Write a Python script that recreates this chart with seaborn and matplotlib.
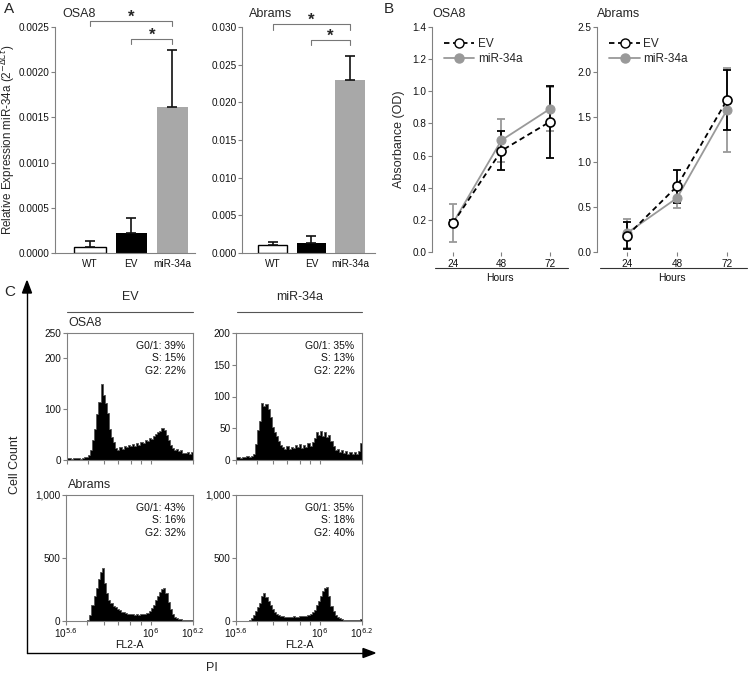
import numpy as np
import pandas as pd
import matplotlib
matplotlib.use("Agg")
import matplotlib.pyplot as plt
import seaborn as sns
from matplotlib.lines import Line2D
from matplotlib.ticker import FixedLocator, NullFormatter, FixedFormatter

sns.set_theme(style="ticks")
plt.rcParams["font.family"] = ["Liberation Sans", "DejaVu Sans"]

# ---------------- data ----------------
groups = ["WT", "EV", "miR-34a"]
osa8_expr = [0.00007, 0.00022, 0.00162]
osa8_expr_err = [0.000065, 0.00017, 0.00063]
abrams_expr = [0.0011, 0.0013, 0.0229]
abrams_expr_err = [0.0003, 0.0009, 0.0033]

hours = [24, 48, 72]
osa8_ev = [0.18, 0.63, 0.81]
osa8_ev_err = [0.02, 0.12, 0.225]
osa8_mir = [0.18, 0.695, 0.89]
osa8_mir_err = [0.12, 0.135, 0.135]
abrams_ev = [0.18, 0.73, 1.69]
abrams_ev_err = [0.15, 0.18, 0.33]
abrams_mir = [0.21, 0.60, 1.58]
abrams_mir_err = [0.16, 0.11, 0.47]

# cell cycle histograms: 60 bins over log10(FL2-A) 5.6 .. 6.2
fl2_log_min, fl2_log_max, n_bins = 5.6, 6.2, 60
osa8_ev_counts = [3, 4, 2, 3, 4, 3, 2, 4, 5, 6, 10, 20, 40, 62, 90, 115, 150, 128, 112, 92,
                  62, 46, 35, 24, 20, 26, 22, 28, 25, 30, 27, 32, 28, 34, 30, 36, 33, 40, 38, 44,
                  42, 48, 52, 55, 58, 63, 60, 50, 40, 30, 24, 20, 22, 18, 20, 14, 13, 15, 11, 16]
osa8_mir_counts = [4, 5, 3, 5, 4, 6, 5, 7, 10, 25, 48, 62, 90, 85, 88, 80, 68, 52, 44, 38,
                   30, 24, 20, 18, 22, 17, 21, 19, 24, 20, 25, 19, 23, 21, 26, 22, 28, 35, 44, 40,
                   45, 38, 44, 36, 40, 30, 22, 16, 18, 12, 15, 11, 14, 10, 13, 9, 12, 10, 14, 26]
abrams_ev_counts = [0, 0, 0, 0, 0, 0, 0, 0, 0, 2, 10, 45, 130, 200, 260, 330, 390, 420, 300, 220,
                    170, 140, 120, 108, 95, 85, 75, 68, 62, 58, 55, 52, 50, 52, 50, 54, 55, 58, 65, 80,
                    100, 130, 170, 200, 230, 250, 262, 220, 150, 95, 55, 32, 20, 15, 12, 10, 10, 11, 10, 11]
abrams_mir_counts = [0, 0, 0, 0, 0, 0, 5, 20, 45, 80, 110, 145, 195, 220, 190, 160, 125, 95, 70, 55,
                     45, 40, 36, 35, 33, 35, 32, 36, 34, 35, 37, 36, 40, 42, 45, 55, 70, 90, 125, 160,
                     200, 235, 260, 270, 200, 120, 80, 48, 30, 20, 14, 8, 6, 5, 5, 4, 5, 6, 8, 13]
osa8_ev_phases = ["G0/1: 39%", "S: 15%", "G2: 22%"]
osa8_mir_phases = ["G0/1: 35%", "S: 13%", "G2: 22%"]
abrams_ev_phases = ["G0/1: 43%", "S: 16%", "G2: 32%"]
abrams_mir_phases = ["G0/1: 35%", "S: 18%", "G2: 40%"]

# ---------------- figure ----------------
W, H = 748, 676
fig = plt.figure(figsize=(W / 100, H / 100), dpi=100)
fig.patch.set_facecolor("white")
SP = "#808080"
TICK_FS = 7.2


def fx(x):
    return x / W


def fy(y):
    return 1 - y / H


def add_ax(l, t, r, b):
    return fig.add_axes([l / W, 1 - b / H, (r - l) / W, (b - t) / H])


def style_ax(ax, box=False):
    for s in ["left", "bottom", "top", "right"]:
        ax.spines[s].set_color(SP)
        ax.spines[s].set_linewidth(0.8)
    if not box:
        ax.spines["top"].set_visible(False)
        ax.spines["right"].set_visible(False)
    ax.tick_params(axis="both", colors=SP, labelcolor="#111", labelsize=TICK_FS,
                   length=3, width=0.8, direction="out", pad=1.0)
    ax.set_facecolor("white")
    ax.grid(False)


# ---------------- panel A ----------------
bar_colors = ["white", "black", "#a8a8a8"]


def bar_panel(ax, vals, errs, ymax, yticks, fmt, title, br1, br2):
    df = pd.DataFrame({"group": groups, "value": vals})
    sns.barplot(data=df, x="group", y="value", hue="group", palette=bar_colors,
                width=0.76, legend=False, ax=ax, errorbar=None, saturation=1)
    for p, c in zip(ax.patches, bar_colors):
        p.set_edgecolor("black" if c == "white" else c)
        p.set_linewidth(1.0 if c == "white" else 0)
    ax.errorbar(range(3), vals, yerr=[[0, 0, 0], errs], fmt="none", ecolor="#111",
                elinewidth=1.2, capsize=3.5, capthick=1.2, zorder=1)
    style_ax(ax)
    ax.set_ylim(0, ymax)
    ax.set_xlim(-0.85, 2.55)
    ax.set_yticks(yticks)
    ax.set_yticklabels([fmt.format(v) for v in yticks])
    ax.set_xlabel("")
    ax.set_ylabel("")
    ax.tick_params(axis="x", length=0, pad=4)
    ax.text(0.05, 1.058, title, transform=ax.transAxes, fontsize=9, ha="left", va="center")
    # significance brackets
    d = ymax * 0.025
    for (x0, x1, yb) in [(0, 2, br1), (1, 2, br2)]:
        ax.plot([x0, x0, x1, x1], [yb - d, yb, yb, yb - d], color="#777", lw=0.8,
                clip_on=False)
        ax.text((x0 + x1) / 2, yb + ymax * 0.017, "*", ha="center", va="center",
                fontsize=12, fontweight="bold", clip_on=False)


axA1 = add_ax(55, 27, 195, 253)
bar_panel(axA1, osa8_expr, osa8_expr_err, 0.0025,
          [0, 0.0005, 0.001, 0.0015, 0.002, 0.0025], "{:.4f}", "OSA8", 0.00257, 0.00237)
axA1.set_ylabel("Relative Expression miR-34a (2$^{-\\Delta Ct}$)", fontsize=8.4)
axA1.yaxis.set_label_coords(-0.262, 0.5)

axA2 = add_ax(242, 27, 375, 253)
bar_panel(axA2, abrams_expr, abrams_expr_err, 0.030,
          [0, 0.005, 0.01, 0.015, 0.02, 0.025, 0.03], "{:.3f}", "Abrams", 0.0304, 0.0283)
axA2.set_xlim(-0.8, 2.65)

# ---------------- panel B ----------------


def line_panel(ax, ev, ev_err, mir, mir_err, ymax, yticks, title, xlim):
    sns.lineplot(x=hours, y=mir, color="#999999", lw=1.3, marker="o", markersize=6.5,
                 markeredgecolor="#999999", markerfacecolor="#999999", ax=ax, zorder=3)
    sns.lineplot(x=hours, y=ev, color="black", lw=1.3, linestyle=(0, (3, 2)), marker="o",
                 markersize=6.5, markeredgecolor="black", markerfacecolor="white",
                 markeredgewidth=1.2, ax=ax, zorder=4)
    ax.errorbar(hours, mir, yerr=mir_err, fmt="none", ecolor="#999999", elinewidth=1.3,
                capsize=3, capthick=1.3, zorder=2)
    ax.errorbar(hours, ev, yerr=ev_err, fmt="none", ecolor="black", elinewidth=1.3,
                capsize=3, capthick=1.3, zorder=2)
    style_ax(ax)
    ax.spines["bottom"].set_visible(False)
    ax.set_ylim(0, ymax)
    ax.set_yticks(yticks)
    ax.set_yticklabels(["{:.1f}".format(v) for v in yticks])
    ax.set_xlim(*xlim)
    ax.set_xticks(hours)
    ax.set_xticklabels([str(h) for h in hours])
    ax.tick_params(axis="x", pad=2)
    ax.plot([0.02, 1.0], [-0.072, -0.072], transform=ax.transAxes, color="#333", lw=0.8,
            clip_on=False)
    ax.set_xlabel("Hours", fontsize=7.5, labelpad=3, color="#111")
    ax.set_ylabel("")
    ax.text(0.0, 1.058, title, transform=ax.transAxes, fontsize=9, ha="left", va="center")
    handles = [Line2D([], [], color="black", lw=1.3, linestyle=(0, (3, 2)), marker="o",
                      markersize=6.5, markerfacecolor="white", markeredgecolor="black"),
               Line2D([], [], color="#999999", lw=1.3, marker="o", markersize=6.5,
                      markerfacecolor="#999999", markeredgecolor="#999999")]
    ax.legend(handles, ["EV", "miR-34a"], loc="upper left", bbox_to_anchor=(0.05, 0.97),
              frameon=False, fontsize=8.5, handlelength=2.6, handletextpad=0.3,
              labelspacing=0.25, borderaxespad=0)


axB1 = add_ax(432, 27, 568, 252)
line_panel(axB1, osa8_ev, osa8_ev_err, osa8_mir, osa8_mir_err, 1.4,
           [0, 0.2, 0.4, 0.6, 0.8, 1.0, 1.2, 1.4], "OSA8", (13.6, 81))
axB1.set_ylabel("Absorbance (OD)", fontsize=9)
axB1.yaxis.set_label_coords(-0.2, 0.5)

axB2 = add_ax(597, 27, 747, 252)
line_panel(axB2, abrams_ev, abrams_ev_err, abrams_mir, abrams_mir_err, 2.5,
           [0, 0.5, 1.0, 1.5, 2.0, 2.5], "Abrams", (9.6, 81.6))

# ---------------- panel C ----------------
minor_ticks = [5e5, 6e5, 7e5, 8e5, 9e5, 1e6]
bin_centers = 10 ** (fl2_log_min + (np.arange(n_bins) + 0.5) * (fl2_log_max - fl2_log_min) / n_bins)


def hist_panel(ax, counts, ymax, yticks, ylabels, phases, bottom):
    sns.histplot(x=bin_centers, weights=counts, bins=n_bins,
                 binrange=(fl2_log_min, fl2_log_max), log_scale=True, color="black",
                 alpha=1, linewidth=0.6, edgecolor="#555", element="step", fill=True, ax=ax)
    style_ax(ax, box=True)
    ax.set_xlim(10 ** fl2_log_min, 10 ** fl2_log_max)
    ax.set_ylim(0, ymax)
    ax.set_yticks(yticks)
    ax.set_yticklabels(ylabels)
    ax.set_ylabel("")
    ax.xaxis.set_major_locator(FixedLocator([10 ** fl2_log_min, 1e6, 10 ** fl2_log_max]))
    ax.xaxis.set_minor_locator(FixedLocator(minor_ticks))
    ax.xaxis.set_minor_formatter(NullFormatter())
    ax.tick_params(axis="x", which="minor", length=3, width=0.8, colors=SP)
    if bottom:
        ax.xaxis.set_major_formatter(FixedFormatter(["10$^{5.6}$", "10$^{6}$", "10$^{6.2}$"]))
        ax.tick_params(axis="x", which="major", pad=1)
        ax.set_xlabel("FL2-A", fontsize=7.5, labelpad=0, color="#111")
    else:
        ax.xaxis.set_major_formatter(NullFormatter())
        ax.set_xlabel("")
    ax.text(0.94, 0.94, "\n".join(phases), transform=ax.transAxes, ha="right", va="top",
            fontsize=7.5, linespacing=1.35, color="#111")


axC1 = add_ax(67, 333, 193, 460)
hist_panel(axC1, osa8_ev_counts, 250, [0, 100, 200, 250], ["0", "100", "200", "250"],
           osa8_ev_phases, False)
axC2 = add_ax(236, 333, 362, 460)
hist_panel(axC2, osa8_mir_counts, 200, [0, 50, 100, 150, 200],
           ["0", "50", "100", "150", "200"], osa8_mir_phases, False)
axC3 = add_ax(66, 495, 193, 621)
hist_panel(axC3, abrams_ev_counts, 1000, [0, 500, 1000], ["0", "500", "1,000"],
           abrams_ev_phases, True)
axC4 = add_ax(236, 495, 362, 621)
hist_panel(axC4, abrams_mir_counts, 1000, [0, 500, 1000], ["0", "500", "1,000"],
           abrams_mir_phases, True)

# headers & labels for C
fig.text(fx(130), fy(297), "EV", ha="center", va="center", fontsize=9)
fig.text(fx(300), fy(297), "miR-34a", ha="center", va="center", fontsize=9)
fig.add_artist(Line2D([fx(67), fx(193)], [fy(312), fy(312)], color="#555", lw=0.8))
fig.add_artist(Line2D([fx(237), fx(362)], [fy(312), fy(312)], color="#555", lw=0.8))
fig.text(fx(68), fy(323), "OSA8", ha="left", va="center", fontsize=9)
fig.text(fx(68), fy(485), "Abrams", ha="left", va="center", fontsize=9)

# axes arrows
fig.add_artist(Line2D([fx(27), fx(27)], [fy(653), fy(292)], color="black", lw=1.0))
fig.add_artist(Line2D([fx(27), fx(365)], [fy(653), fy(653)], color="black", lw=1.0))
fig.patches.append(matplotlib.patches.Polygon(
    [[fx(22.5), fy(293)], [fx(31.5), fy(293)], [fx(27), fy(281)]],
    closed=True, color="black", transform=fig.transFigure, figure=fig))
fig.patches.append(matplotlib.patches.Polygon(
    [[fx(363), fy(648.5)], [fx(363), fy(657.5)], [fx(375), fy(653)]],
    closed=True, color="black", transform=fig.transFigure, figure=fig))
fig.text(fx(15), fy(465), "Cell Count", rotation=90, ha="center", va="center", fontsize=9)
fig.text(fx(212), fy(668), "PI", ha="center", va="center", fontsize=9)

# panel letters
fig.text(fx(4), fy(9), "A", ha="left", va="center", fontsize=11)
fig.text(fx(384), fy(9), "B", ha="left", va="center", fontsize=11)
fig.text(fx(4), fy(292), "C", ha="left", va="center", fontsize=11)

fig.savefig("out.png", dpi=100, facecolor="white")
